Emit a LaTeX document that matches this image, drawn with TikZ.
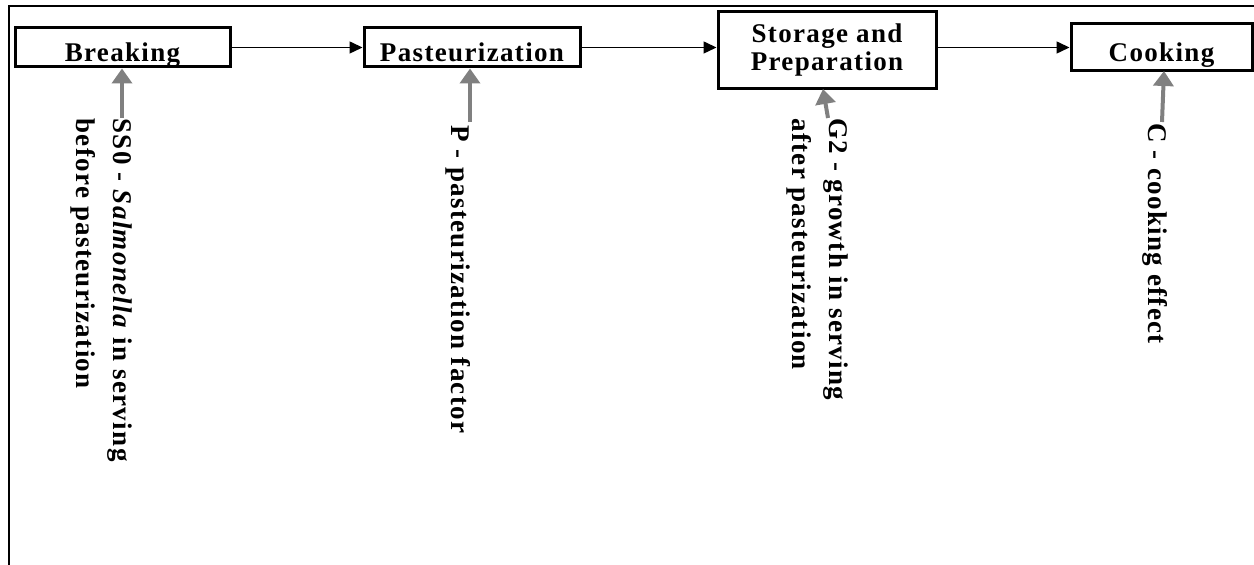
\documentclass[tikz,border=0pt]{standalone}
\usepackage{fontspec}
\setmainfont{Liberation Serif}[LetterSpace=5]
\usetikzlibrary{arrows.meta}
\begin{document}
\begin{tikzpicture}[x=0.5pt,y=-0.5pt,
  every node/.style={font=\fontsize{13.5}{18.5}\selectfont\bfseries, inner sep=0pt},
  procbox/.style={draw, line width=1.5pt},
  onebox/.style={procbox, text height=14.5pt, text depth=0pt},
  flow/.style={line width=0.75pt, -{Triangle[length=6.5pt,width=6pt]}},
  garrow/.style={draw=gray, line width=2pt, -{Triangle[length=7.5pt,width=10pt]}, color=gray},
  vlabel/.style={rotate=-90, anchor=north west, align=left}]
\useasboundingbox (0,0) rectangle (1254,565);
% frame
\draw[line width=1pt] (9,565) -- (9,6) -- (1254,6);
% boxes
\node[onebox, minimum width=107.5pt, minimum height=19.5pt] (brk) at (122.5,47.5) {Breaking};
\node[onebox, minimum width=108pt, minimum height=19.5pt] (past) at (472,47.5) {Pasteurization};
\node[procbox, minimum width=109pt, minimum height=38.5pt, align=center,
      font=\fontsize{13.5}{14}\selectfont\bfseries] (stor) at (827,50.5) {Storage and\\Preparation};
\node[onebox, minimum width=90.5pt, minimum height=23.5pt] (cook) at (1161.5,47.5) {Cooking};
% flow arrows
\draw[flow] (brk.east) -- (past.west);
\draw[flow] (past.east) -- (past.east -| stor.west);
\draw[flow] (stor.east |- cook.west) -- (cook.west);
% labels
\node[vlabel] (lss) at (133,118) {SS0 - \textit{Salmonella} in serving\\before pasteurization};
\node[vlabel] (lp) at (471,125) {P - pasteurization factor};
\node[vlabel] (lg) at (849,118) {G2 - growth in serving\\after pasteurization};
\node[vlabel] (lc) at (1168,123) {C - cooking effect};
% gray arrows
\coordinate (ass) at (122,118);
\coordinate (ap) at (470,122);
\coordinate (ag) at (828,118);
\coordinate (agt) at (823,89);
\coordinate (ac) at (1162,122);
\coordinate (act) at (1164,71);
\draw[garrow] (ass) -- (ass |- brk.south);
\draw[garrow] (ap) -- (ap |- past.south);
\draw[garrow] (ag) -- (agt);
\draw[garrow] (ac) -- (act);
\end{tikzpicture}
\end{document}
